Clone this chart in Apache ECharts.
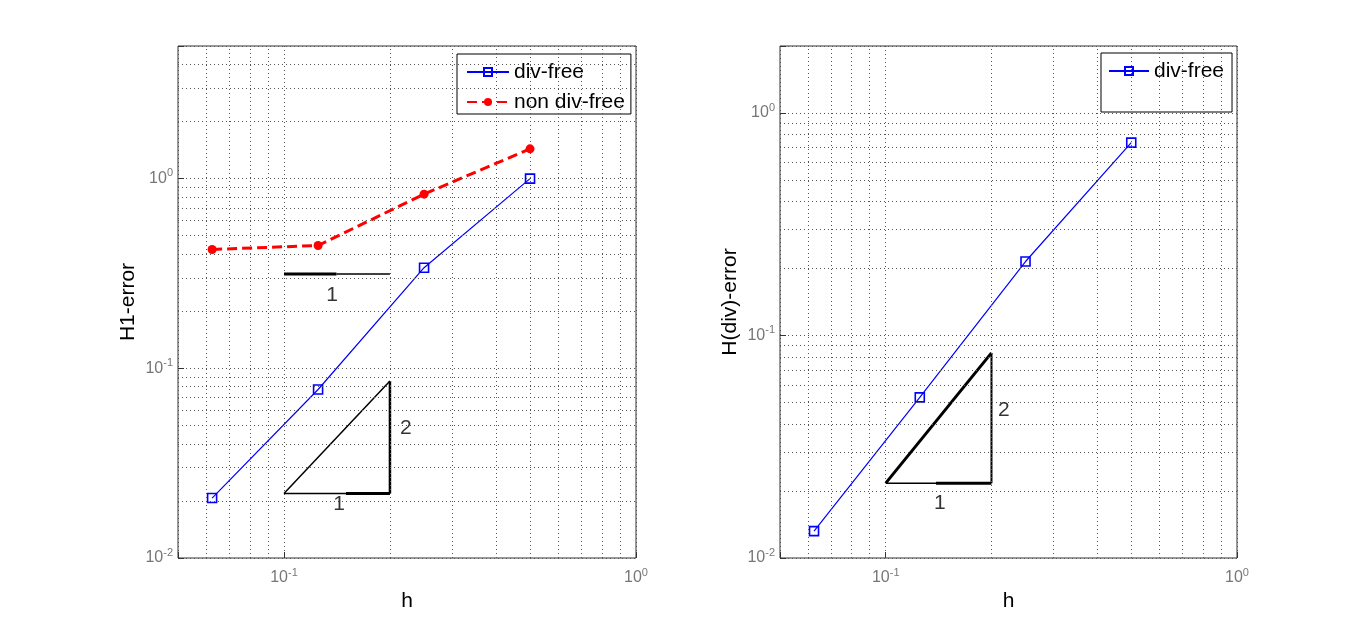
<!DOCTYPE html>
<html>
<head>
<meta charset="utf-8">
<script src="https://cdn.jsdelivr.net/npm/echarts@6/dist/echarts.min.js"></script>
<style>
  html, body { margin: 0; padding: 0; background: #fff; }
  #chart { width: 1367px; height: 627px; }
</style>
</head>
<body>
<div id="chart"></div>
<script>
// mesh size h and the measured errors
const hValues = [0.0625, 0.125, 0.25, 0.5];
const h1DivFree = [0.0207, 0.0773, 0.339, 1.0];
const h1NonDivFree = [0.423, 0.444, 0.828, 1.435];
const hdivDivFree = [0.0132, 0.0527, 0.215, 0.736];

// slope reference markers (data coordinates)
const slopeX = [0.1, 0.2];
const h1SlopeY = [0.0219, 0.0858];
const h1BottomSplit = 0.15;
const h1FlatY = 0.314;
const h1FlatSplit = 0.141;
const hdivSlopeY = [0.0217, 0.0835];
const hdivBottomSplit = 0.139;

const h1Labels = [
  { name: '1', value: [0.137, 0.242] },
  { name: '2', value: [0.222, 0.0484] },
  { name: '1', value: [0.1435, 0.0191] }
];
const hdivLabels = [
  { name: '2', value: [0.217, 0.0463] },
  { name: '1', value: [0.1426, 0.0177] }
];

// minor grid positions (log axes)
const xMinor = [0.06, 0.07, 0.08, 0.09, 0.2, 0.3, 0.4, 0.5, 0.6, 0.7, 0.8, 0.9];
const yMinorLeft = [0.02, 0.03, 0.04, 0.05, 0.06, 0.07, 0.08, 0.09,
  0.2, 0.3, 0.4, 0.5, 0.6, 0.7, 0.8, 0.9, 2, 3, 4];
const yMinorRight = [0.02, 0.03, 0.04, 0.05, 0.06, 0.07, 0.08, 0.09,
  0.2, 0.3, 0.4, 0.5, 0.6, 0.7, 0.8, 0.9];

const FONT = 'Liberation Sans, Arial, sans-serif';
const gridDot = { color: '#555', type: [1, 3], width: 1 };
const zip = (xs, ys) => xs.map((x, i) => [x, ys[i]]);

function powLabel(v) {
  const l = Math.log10(v);
  const e = Math.round(l);
  if (Math.abs(l - e) > 1e-6) return '';
  return '{b|10}{s|' + (e === 0 ? 0 : e) + '}';
}

const tickRich = {
  b: { fontSize: 16, color: '#777', fontFamily: FONT },
  s: { fontSize: 11, color: '#777', fontFamily: FONT, padding: [0, 0, 11, 0] }
};

function logAxis(gridIndex, min, max, isX) {
  return {
    type: 'log',
    logBase: 10,
    gridIndex,
    min,
    max,
    name: isX ? 'h' : (gridIndex === 0 ? 'H1-error' : 'H(div)-error'),
    nameLocation: 'middle',
    nameGap: isX ? 29 : 39,
    nameTextStyle: { fontSize: 21, color: '#000', fontFamily: FONT },
    axisLine: { show: false },
    axisTick: { show: true, inside: true, length: 6, lineStyle: { color: '#333' } },
    axisLabel: {
      formatter: powLabel,
      rich: tickRich,
      fontSize: 16,
      color: '#777',
      fontFamily: FONT,
      margin: isX ? 9 : 5,
      showMinLabel: true,
      showMaxLabel: true,
      hideOverlap: false
    },
    splitLine: { show: true, lineStyle: gridDot }
  };
}

function segment(name, pts, width, gi) {
  return {
    name, type: 'line', xAxisIndex: gi, yAxisIndex: gi,
    data: pts, symbol: 'none', silent: true, z: 3,
    lineStyle: { color: '#000', width }
  };
}

function gridSeries(gi, yMinor) {
  return {
    name: 'grid' + gi, type: 'line', xAxisIndex: gi, yAxisIndex: gi,
    data: [], silent: true, z: 1,
    markLine: {
      silent: true, symbol: ['none', 'none'], label: { show: false },
      lineStyle: gridDot, animation: false,
      data: xMinor.map(v => ({ xAxis: v })).concat(yMinor.map(v => ({ yAxis: v })))
    }
  };
}

function labelSeries(gi, data) {
  return {
    name: 'labels' + gi, type: 'scatter', xAxisIndex: gi, yAxisIndex: gi,
    data, symbolSize: 0, silent: true, z: 5,
    label: { show: true, position: 'inside', formatter: '{b}', fontSize: 21, color: '#000', fontFamily: FONT }
  };
}

const blueStyle = {
  type: 'line', symbol: 'rect', symbolSize: 9, z: 4,
  lineStyle: { color: '#0000ff', width: 1.2 },
  itemStyle: { color: 'rgba(255,255,255,0)', borderColor: '#0000ff', borderWidth: 1.6 }
};

const chart = echarts.init(document.getElementById('chart'));
chart.setOption({
  animation: false,
  backgroundColor: '#fff',
  grid: [
    { left: 178, right: 731, top: 46, bottom: 69, show: true, borderColor: '#333', borderWidth: 1, backgroundColor: '#fff', outerBoundsMode: 'none' },
    { left: 780, right: 130, top: 46, bottom: 69, show: true, borderColor: '#333', borderWidth: 1, backgroundColor: '#fff', outerBoundsMode: 'none' }
  ],
  xAxis: [logAxis(0, 0.05, 1, true), logAxis(1, 0.05, 1, true)],
  yAxis: [logAxis(0, 0.01, 5, false), logAxis(1, 0.01, 2, false)],
  legend: [
    {
      data: ['div-free', 'non div-free'],
      orient: 'vertical', left: 457, top: 54,
      itemWidth: 42, itemHeight: 10, itemGap: 6,
      padding: [6, 6, 0, 9],
      borderColor: '#000', borderWidth: 1, backgroundColor: '#fff',
      selectedMode: false,
      textStyle: { fontSize: 21, color: '#000', fontFamily: FONT, lineHeight: 24 }
    },
    {
      data: ['div-free'],
      orient: 'vertical', left: 1101, top: 53,
      itemWidth: 40, itemHeight: 10,
      padding: [6, 8, 29, 7],
      borderColor: '#000', borderWidth: 1, backgroundColor: '#fff',
      selectedMode: false,
      textStyle: { fontSize: 21, color: '#000', fontFamily: FONT, lineHeight: 24 }
    }
  ],
  series: [
    gridSeries(0, yMinorLeft),
    gridSeries(1, yMinorRight),
    Object.assign({ name: 'div-free', xAxisIndex: 0, yAxisIndex: 0, data: zip(hValues, h1DivFree) }, blueStyle),
    {
      name: 'non div-free', type: 'line', xAxisIndex: 0, yAxisIndex: 0, z: 4,
      data: zip(hValues, h1NonDivFree),
      symbol: 'circle', symbolSize: 9,
      lineStyle: { color: '#ff0000', width: 3, type: [10, 5] },
      itemStyle: { color: '#ff0000' }
    },
    Object.assign({ name: 'div-free', xAxisIndex: 1, yAxisIndex: 1, data: zip(hValues, hdivDivFree) }, blueStyle),

    // left slope markers
    segment('h1-hyp', zip(slopeX, h1SlopeY), 1.5, 0),
    segment('h1-vert', [[slopeX[1], h1SlopeY[0]], [slopeX[1], h1SlopeY[1]]], 2.5, 0),
    segment('h1-bot-a', [[slopeX[0], h1SlopeY[0]], [h1BottomSplit, h1SlopeY[0]]], 1.5, 0),
    segment('h1-bot-b', [[h1BottomSplit, h1SlopeY[0]], [slopeX[1], h1SlopeY[0]]], 3, 0),
    segment('h1-flat-a', [[slopeX[0], h1FlatY], [h1FlatSplit, h1FlatY]], 3, 0),
    segment('h1-flat-b', [[h1FlatSplit, h1FlatY], [slopeX[1], h1FlatY]], 1.5, 0),
    labelSeries(0, h1Labels),

    // right slope marker
    segment('hdiv-hyp', zip(slopeX, hdivSlopeY), 3, 1),
    segment('hdiv-vert', [[slopeX[1], hdivSlopeY[0]], [slopeX[1], hdivSlopeY[1]]], 2, 1),
    segment('hdiv-bot-a', [[slopeX[0], hdivSlopeY[0]], [hdivBottomSplit, hdivSlopeY[0]]], 1.5, 1),
    segment('hdiv-bot-b', [[hdivBottomSplit, hdivSlopeY[0]], [slopeX[1], hdivSlopeY[0]]], 3, 1),
    labelSeries(1, hdivLabels)
  ]
});
</script>
</body>
</html>
